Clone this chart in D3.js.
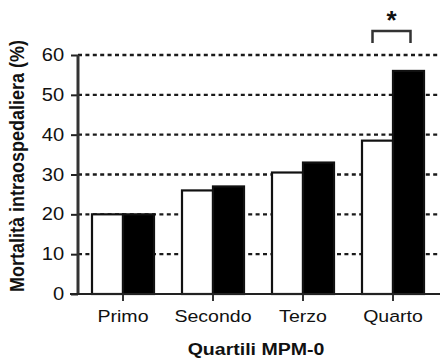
<!DOCTYPE html>
<html>
<head>
<meta charset="utf-8">
<script src="https://cdn.jsdelivr.net/npm/d3@7"></script>
<style>
  body { margin: 0; background: #fff; }
  text { font-family: "Liberation Sans", Arial, Helvetica, sans-serif; fill: #111; }
</style>
</head>
<body>
<svg id="chart" width="440" height="358"></svg>
<script>
// data
const quartiles = ["Primo", "Secondo", "Terzo", "Quarto"];
const seriesNames = ["bianco", "nero"];
const whiteValues = [20, 26, 30.5, 38.5];
const blackValues = [20, 27, 33, 56];
const yTicks = [0, 10, 20, 30, 40, 50, 60];

const svg = d3.select("#chart");
const stretch = 1.15; // source picture is a bit wide

const x = d3.scaleBand()
  .domain(quartiles)
  .range([78, 438])
  .paddingInner(28 / 90)
  .paddingOuter(14 / 90);

const x1 = d3.scaleBand()
  .domain(seriesNames)
  .range([0, x.bandwidth()]);

const y = d3.scaleLinear()
  .domain([0, 60])
  .range([294, 55]);

// dotted gridlines
svg.append("g")
  .selectAll("line")
  .data(yTicks.filter(d => d > 0))
  .join("line")
    .attr("x1", 78)
    .attr("x2", 440)
    .attr("y1", d => y(d))
    .attr("y2", d => y(d))
    .attr("stroke", "#1a1a1a")
    .attr("stroke-width", 2.3)
    .attr("stroke-dasharray", "4,3.4");

// bars
const rows = quartiles.map((q, i) => ({ q, vals: [whiteValues[i], blackValues[i]] }));
svg.append("g")
  .selectAll("g")
  .data(rows)
  .join("g")
    .attr("transform", d => `translate(${x(d.q)},0)`)
  .selectAll("rect")
  .data(d => d.vals.map((v, j) => ({ key: seriesNames[j], v })))
  .join("rect")
    .attr("x", d => x1(d.key))
    .attr("y", d => y(d.v))
    .attr("width", x1.bandwidth())
    .attr("height", d => y(0) - y(d.v))
    .attr("fill", d => d.key === "nero" ? "#000" : "#fff")
    .attr("stroke", "#111")
    .attr("stroke-width", 2.2);

// y axis
const yAxis = svg.append("g")
  .attr("transform", "translate(78,0)")
  .call(d3.axisLeft(y).tickValues(yTicks).tickSize(7).tickPadding(5));
yAxis.select(".domain").remove();
yAxis.append("line")
  .attr("x1", 0).attr("x2", 0)
  .attr("y1", y(60)).attr("y2", y(0))
  .attr("stroke", "#333")
  .attr("stroke-width", 3);
yAxis.selectAll(".tick line").attr("stroke", "#222").attr("stroke-width", 2);
yAxis.selectAll(".tick text")
  .attr("font-size", 17.5)
  .attr("fill", "#111")
  .attr("transform", `scale(${stretch},1)`);

// x axis
const xAxis = svg.append("g")
  .attr("transform", `translate(0,${y(0)})`)
  .call(d3.axisBottom(x).tickSize(7).tickPadding(9));
xAxis.select(".domain").remove();
xAxis.append("line")
  .attr("x1", 70).attr("x2", 440)
  .attr("y1", 0).attr("y2", 0)
  .attr("stroke", "#222")
  .attr("stroke-width", 2);
xAxis.selectAll(".tick line").attr("stroke", "#333").attr("stroke-width", 2);
xAxis.selectAll(".tick text")
  .attr("font-size", 17)
  .attr("fill", "#111")
  .attr("transform", `scale(${stretch},1)`);

// axis titles
svg.append("text")
  .attr("transform", `translate(256,355) scale(${stretch},1)`)
  .attr("text-anchor", "middle")
  .attr("font-size", 17)
  .attr("font-weight", "bold")
  .text("Quartili MPM-0");

svg.append("text")
  .attr("transform", `translate(24,166) rotate(-90) scale(1,${stretch})`)
  .attr("text-anchor", "middle")
  .attr("font-size", 18)
  .attr("font-weight", "bold")
  .text("Mortalità intraospedaliera (%)");

// significance bracket on Quarto
const qx = x("Quarto");
const bx0 = qx + x1.bandwidth() / 2 - 5;
const bx1 = qx + x1("nero") + x1.bandwidth() / 2 + 2;
svg.append("path")
  .attr("d", `M${bx0},43V31H${bx1}V43`)
  .attr("fill", "none")
  .attr("stroke", "#333")
  .attr("stroke-width", 2.5);
svg.append("text")
  .attr("x", (bx0 + bx1) / 2)
  .attr("y", 29)
  .attr("text-anchor", "middle")
  .attr("font-size", 26)
  .attr("font-weight", "bold")
  .text("*");
</script>
</body>
</html>
